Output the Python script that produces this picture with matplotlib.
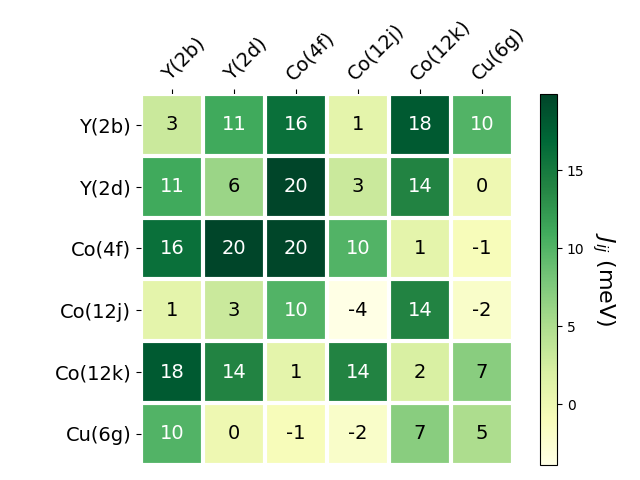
import numpy as np
import matplotlib.pyplot as plt

sites = ['Y(2b)', 'Y(2d)', 'Co(4f)', 'Co(12j)', 'Co(12k)', 'Cu(6g)']

# exchange constants in meV
J = np.array([
    [3.0, 11.0, 16.0, 1.0, 18.0, 10.0],
    [11.0, 6.0, 19.9, 3.0, 14.0, 0.0],
    [16.0, 19.9, 19.8, 10.0, 1.0, -1.0],
    [1.0, 3.0, 10.0, -3.9, 14.0, -2.0],
    [18.0, 14.0, 1.0, 14.0, 2.0, 7.0],
    [10.0, 0.0, -1.0, -2.0, 7.0, 5.0],
])

fig = plt.figure(figsize=(6.4, 4.8), dpi=100)
ax = fig.add_axes([140.9/640, 15.3/480, 371.9/640, 370.7/480])
cax = fig.add_axes([540/640, 15/480, 17/640, 371/480])

im = ax.imshow(J, cmap='YlGn', aspect='auto')
cbar = fig.colorbar(im, cax=cax)
cbar.set_label(r'$J_{ij}$ (meV)', rotation=-90, va='bottom', fontsize=16)
cbar.set_ticks([0, 5, 10, 15])

ax.set_xticks(np.arange(len(sites)))
ax.set_yticks(np.arange(len(sites)))
ax.set_xticklabels(sites, fontsize=14)
ax.set_yticklabels(sites, fontsize=14)
ax.tick_params(top=True, bottom=False, labeltop=True, labelbottom=False)
plt.setp(ax.get_xticklabels(), rotation=45, ha='left', rotation_mode='anchor')

for s in ax.spines.values():
    s.set_visible(False)

ax.set_xticks(np.arange(len(sites) + 1) - .5, minor=True)
ax.set_yticks(np.arange(len(sites) + 1) - .5, minor=True)
ax.grid(which='minor', color='w', linestyle='-', linewidth=3)
ax.tick_params(which='minor', bottom=False, left=False, top=False)

thresh = im.norm(J.max()) / 2
for i in range(J.shape[0]):
    for j in range(J.shape[1]):
        c = 'white' if im.norm(J[i, j]) > thresh else 'black'
        ax.text(j, i, '%.0f' % J[i, j], ha='center', va='center', color=c, fontsize=14)

fig.savefig('out.png')
